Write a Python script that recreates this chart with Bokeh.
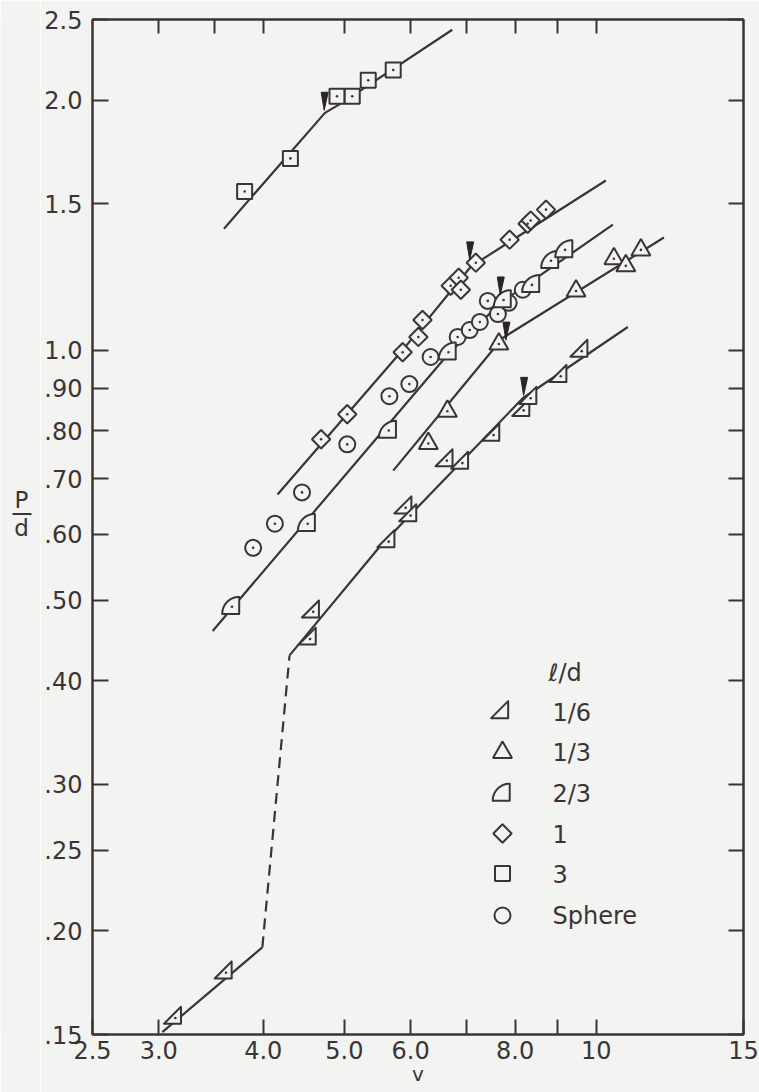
import numpy as np
from bokeh.plotting import figure
from bokeh.layouts import row
from bokeh.models import Range1d, LogAxis, FixedTicker, CustomJSTickFormatter, Label
from bokeh.core.properties import value
from bokeh.embed import file_html
from bokeh.resources import INLINE

BG = "#f3f3f1"
INK = "#3a3535"
FONT = "DejaVu Sans"

# ---------------- data ----------------
# l/d = 1/6  (right-triangle markers)
x_16 = [3.14, 3.61, 4.55, 4.59, 5.65, 5.92, 6.00, 6.63, 6.92, 7.54, 8.19, 8.35, 9.07, 9.61]
y_16 = [0.157, 0.178, 0.449, 0.484, 0.588, 0.646, 0.632, 0.736, 0.731, 0.790, 0.846, 0.875, 0.930, 0.997]
# l/d = 1/3  (triangles)
x_13 = [6.30, 6.64, 7.65, 9.46, 10.50, 10.85, 11.31]
y_13 = [0.772, 0.844, 1.017, 1.178, 1.288, 1.263, 1.320]
# l/d = 2/3  (quarter-disk markers)
x_23 = [3.67, 4.52, 5.65, 6.66, 7.75, 8.38, 8.83, 9.18]
y_23 = [0.491, 0.618, 0.800, 0.994, 1.149, 1.198, 1.281, 1.320]
# l/d = 1  (diamonds)
x_1 = [4.69, 5.04, 5.87, 6.13, 6.20, 6.70, 6.85, 6.89, 7.18, 7.88, 8.28, 8.35, 8.71]
y_1 = [0.781, 0.837, 0.994, 1.037, 1.087, 1.195, 1.222, 1.182, 1.274, 1.358, 1.419, 1.432, 1.476]
# l/d = 3  (squares)
x_3 = [3.80, 4.31, 4.90, 5.11, 5.34, 5.72]
y_3 = [1.552, 1.701, 2.021, 2.021, 2.113, 2.173]
# sphere (circles)
x_sph = [3.89, 4.13, 4.45, 5.04, 5.66, 5.98, 6.34, 6.83, 7.06, 7.26, 7.42, 7.63, 7.86, 8.17]
y_sph = [0.578, 0.618, 0.674, 0.770, 0.880, 0.910, 0.981, 1.037, 1.057, 1.081, 1.146, 1.105, 1.140, 1.182]

# faired curves
fit_3_x = [3.59, 4.74, 4.95, 6.73]
fit_3_y = [1.40, 1.93, 1.98, 2.43]
fit_1_x = [4.16, 5.87, 7.08, 10.27]
fit_1_y = [0.670, 1.00, 1.26, 1.60]
fit_23_x = [3.48, 6.66, 7.69, 10.47]
fit_23_y = [0.459, 0.99, 1.14, 1.416]
fit_13_x = [5.72, 7.73, 12.05]
fit_13_y = [0.716, 1.034, 1.366]
fit_16a_x = [3.03, 3.99]
fit_16a_y = [0.151, 0.191]
fit_16dash_x = [3.99, 4.30]
fit_16dash_y = [0.191, 0.429]
fit_16b_x = [4.30, 5.52, 8.17, 10.91]
fit_16b_y = [0.429, 0.581, 0.875, 1.066]

# onset arrows (tip positions)
arrow_x = [4.73, 7.06, 7.68, 7.80, 8.19]
arrow_y = [1.944, 1.284, 1.165, 1.028, 0.882]

# axes
x_ticks = [2.5, 3, 4, 5, 6, 8, 10, 15]
x_tick_labels = ["2.5", "3.0", "4.0", "5.0", "6.0", "8.0", "10", "15"]
x_minor = [7, 9]
x_top_ticks = [3, 3.5, 4, 5, 6, 7, 8, 9, 10]
y_ticks = [0.15, 0.2, 0.25, 0.3, 0.4, 0.5, 0.6, 0.7, 0.8, 0.9, 1.0, 1.5, 2.0, 2.5]
y_tick_labels = [".15", ".20", ".25", ".30", ".40", ".50", ".60", ".70", ".80", ".90",
                 "1.0", "1.5", "2.0", "2.5"]
x_title = "v"
y_title_num = "P"
y_title_den = "d"

legend_title = "\u2113/d"
legend_labels = ["1/6", "1/3", "2/3", "1", "3", "Sphere"]

# ---------------- layout ----------------
W, H = 759, 1092
SIDE = 40                       # strip that holds the P/d fraction
L, R, T, B = 92, 16, 19, 58      # frame offsets in the page
FW, FH = W - L - R, H - T - B
X0, X1, Y0, Y1 = 2.5, 15.0, 0.15, 2.5
KX = FW / (np.log10(X1) - np.log10(X0))
KY = FH / (np.log10(Y1) - np.log10(Y0))


def sx2x(sx):
    return X0 * 10 ** ((sx - L) / KX)


def sy2y(sy):
    return Y1 * 10 ** (-(sy - T) / KY)


def shape(xs, ys, verts):
    px, py = [], []
    for x, y in zip(xs, ys):
        px.append([x * 10 ** (dx / KX) for dx, dy in verts])
        py.append([y * 10 ** (dy / KY) for dx, dy in verts])
    return px, py


# marker outlines in screen px (dy positive = up), centred on centroid
S16 = 17.0
tri16 = [(S16 / 3, 2 * S16 / 3), (S16 / 3, -S16 / 3), (-2 * S16 / 3, -S16 / 3)]
RQ = 17.0
c = 4 * RQ / (3 * np.pi)
quarter = [(c, -c)] + [(c + RQ * np.cos(t), -c + RQ * np.sin(t))
                       for t in np.linspace(np.pi / 2, np.pi, 16)]
arrow = [(0, 0), (-3, 18), (4, 18)]

p = figure(width=W - SIDE, height=H, x_axis_type="log", y_axis_type="log",
           x_range=Range1d(X0, X1), y_range=Range1d(Y0, Y1),
           output_backend="svg", toolbar_location=None,
           min_border_left=L - SIDE, min_border_right=R, min_border_top=T, min_border_bottom=B,
           background_fill_color=BG, border_fill_color=BG)
p.grid.visible = False
p.outline_line_color = INK
p.outline_line_width = 2

fmt_code = "const i = vals.findIndex(v => Math.abs(v - tick) < 1e-6 * v); return i >= 0 ? labs[i] : '';"
blank = CustomJSTickFormatter(code="return '';")


def style_axis(ax, tick_len):
    ax.axis_line_color = INK
    ax.axis_line_width = 2
    ax.major_tick_line_color = INK
    ax.major_tick_line_width = 2
    ax.major_tick_in = tick_len
    ax.major_tick_out = 0
    ax.minor_tick_line_color = INK
    ax.minor_tick_line_width = 2
    ax.minor_tick_in = tick_len
    ax.minor_tick_out = 0
    ax.major_label_text_font = FONT
    ax.major_label_text_font_size = "24px"
    ax.major_label_text_color = INK


xb = p.xaxis[0]
xb.ticker = FixedTicker(ticks=x_ticks, minor_ticks=x_minor)
xb.formatter = CustomJSTickFormatter(args=dict(vals=x_ticks, labs=x_tick_labels), code=fmt_code)
style_axis(xb, 15)
xb.major_label_standoff = 6
xb.axis_label = x_title
xb.axis_label_text_font = FONT
xb.axis_label_text_font_size = "20px"
xb.axis_label_text_font_style = "normal"
xb.axis_label_text_color = INK
xb.axis_label_standoff = 0

yl = p.yaxis[0]
yl.ticker = FixedTicker(ticks=y_ticks, minor_ticks=[])
yl.formatter = CustomJSTickFormatter(args=dict(vals=y_ticks, labs=y_tick_labels), code=fmt_code)
style_axis(yl, 16)
yl.major_label_standoff = 10

xt = LogAxis(ticker=FixedTicker(ticks=x_top_ticks, minor_ticks=[]), formatter=blank)
style_axis(xt, 14)
xt.major_label_text_font_size = "1px"
xt.major_label_standoff = 0
p.add_layout(xt, "above")

yr = LogAxis(ticker=FixedTicker(ticks=y_ticks, minor_ticks=[]), formatter=blank)
style_axis(yr, 15)
yr.major_label_text_font_size = "1px"
yr.major_label_standoff = 0
p.add_layout(yr, "right")

# faired curves
for fx, fy in [(fit_3_x, fit_3_y), (fit_1_x, fit_1_y), (fit_23_x, fit_23_y),
               (fit_13_x, fit_13_y), (fit_16a_x, fit_16a_y), (fit_16b_x, fit_16b_y)]:
    p.line(fx, fy, line_color=INK, line_width=2.2)
p.line(fit_16dash_x, fit_16dash_y, line_color=INK, line_width=2.2, line_dash="11 7")

MLW = 2.0
DOT = 2.6

# sphere
p.scatter(x_sph, y_sph, marker="circle", size=16, fill_color=BG, line_color=INK, line_width=MLW)
p.scatter(x_sph, y_sph, marker="circle", size=DOT, fill_color=INK, line_color=None)
# 1/6
px, py = shape(x_16, y_16, tri16)
p.patches(px, py, fill_color=BG, line_color=INK, line_width=MLW, line_join="round")
p.scatter(x_16, y_16, marker="circle", size=DOT, fill_color=INK, line_color=None)
# 1/3
p.scatter(x_13, y_13, marker="triangle", size=19, fill_color=BG, line_color=INK, line_width=MLW)
p.scatter(x_13, y_13, marker="circle", size=DOT, fill_color=INK, line_color=None)
# 2/3
px, py = shape(x_23, y_23, quarter)
p.patches(px, py, fill_color=BG, line_color=INK, line_width=MLW, line_join="round")
p.scatter(x_23, y_23, marker="circle", size=DOT, fill_color=INK, line_color=None)
# 1
p.scatter(x_1, y_1, marker="square", angle=np.pi / 4, size=13, fill_color=BG, line_color=INK, line_width=MLW)
p.scatter(x_1, y_1, marker="circle", size=DOT, fill_color=INK, line_color=None)
# 3
p.scatter(x_3, y_3, marker="square", size=15, fill_color=BG, line_color=INK, line_width=MLW)
p.scatter(x_3, y_3, marker="circle", size=DOT, fill_color=INK, line_color=None)
# arrows
px, py = shape(arrow_x, arrow_y, arrow)
p.patches(px, py, fill_color="#2a2424", line_color="#2a2424", line_width=1)

# ---------------- legend ----------------
leg_sx = 502
leg_rows = [712, 752, 793, 833, 873, 915]
lx = sx2x(leg_sx)
ly = [sy2y(s) for s in leg_rows]
px, py = shape([lx], [ly[0]], tri16)
p.patches(px, py, fill_color=BG, line_color=INK, line_width=MLW, line_join="round")
p.scatter([lx], [ly[1]], marker="triangle", size=19, fill_color=BG, line_color=INK, line_width=MLW)
px, py = shape([lx], [ly[2]], quarter)
p.patches(px, py, fill_color=BG, line_color=INK, line_width=MLW, line_join="round")
p.scatter([lx], [ly[3]], marker="square", angle=np.pi / 4, size=13, fill_color=BG, line_color=INK, line_width=MLW)
p.scatter([lx], [ly[4]], marker="square", size=15, fill_color=BG, line_color=INK, line_width=MLW)
p.scatter([lx], [ly[5]], marker="circle", size=16, fill_color=BG, line_color=INK, line_width=MLW)


def add_text(sx, sy, txt, size="24px", align="left"):
    p.add_layout(Label(x=sx2x(sx), y=sy2y(sy), text=txt, text_font=FONT, text_font_size=size,
                       text_color=INK, text_align=align, text_baseline="middle"))


add_text(548, 672, legend_title)
for sy, txt in zip(leg_rows, legend_labels):
    add_text(552, sy, txt)

# ---------------- side strip with the P/d fraction ----------------
side = figure(width=SIDE, height=H, x_range=Range1d(0, SIDE), y_range=Range1d(H, 0),
              output_backend="svg", toolbar_location=None,
              x_axis_location=None, y_axis_location=None,
              min_border=0, background_fill_color=BG, border_fill_color=BG)
side.grid.visible = False
side.outline_line_color = None
side.text(x=[21], y=[517], text=[y_title_num], text_font=value(FONT), text_font_size=value("23px"),
          text_color=INK, text_align="center", text_baseline="middle")
side.text(x=[21], y=[547], text=[y_title_den], text_font=value(FONT), text_font_size=value("23px"),
          text_color=INK, text_align="center", text_baseline="middle")
side.line(x=[12, 31], y=[532, 532], line_color=INK, line_width=2)

layout = row(side, p, spacing=0)
open("out.html", "w").write(file_html(layout, INLINE))
